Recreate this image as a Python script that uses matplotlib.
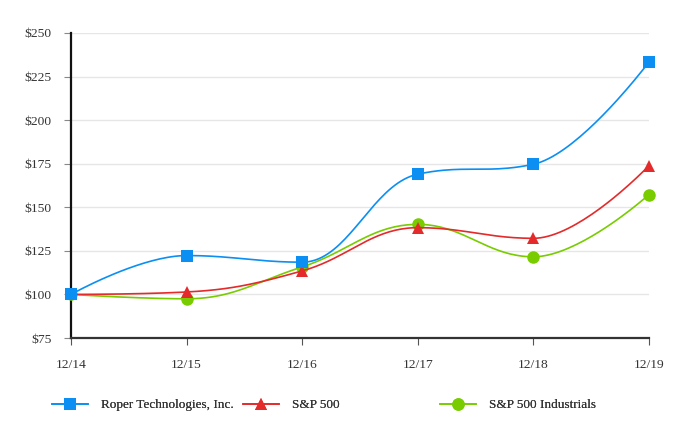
"""
Five-year cumulative total return: Roper vs S&P 500 vs S&P 500 Industrials.
Smooth spline lines with markers, serif labels, legend row below the plot.
"""

import numpy as np
import matplotlib.pyplot as plt
from matplotlib.lines import Line2D

years       = ["12/14", "12/15", "12/16", "12/17", "12/18", "12/19"]
roper       = [100.0, 122.3, 118.5, 169.0, 174.7, 233.4]
sp500       = [100.0, 101.4, 113.5, 138.3, 132.2, 173.9]
industrials = [100.0, 97.5, 115.8, 140.2, 121.6, 157.3]

y_ticks  = [75, 100, 125, 150, 175, 200, 225, 250]
y_labels = [f"${v}" for v in y_ticks]

BLUE  = "#0b8ff2"
RED   = "#e42a2a"
GREEN = "#78cc00"
TEXT  = "#333333"
FONT  = ["Liberation Serif", "DejaVu Serif"]


def spline(xs, ys, smoothing=1.5, n=40):
    """Bezier spline through the points (same idea as a charting 'spline' series)."""
    xs = np.asarray(xs, float)
    ys = np.asarray(ys, float)
    k = len(xs)
    left = [(xs[i], ys[i]) for i in range(k)]
    right = [(xs[i], ys[i]) for i in range(k)]
    d = smoothing + 1
    for i in range(1, k - 1):
        lx = (smoothing * xs[i] + xs[i - 1]) / d
        ly = (smoothing * ys[i] + ys[i - 1]) / d
        rx = (smoothing * xs[i] + xs[i + 1]) / d
        ry = (smoothing * ys[i] + ys[i + 1]) / d
        corr = (ry - ly) * (rx - xs[i]) / (rx - lx) + ys[i] - ry
        ly += corr
        ry += corr
        # keep control points from overshooting the neighbours
        if ly > ys[i - 1] and ly > ys[i]:
            ly = max(ys[i - 1], ys[i]); ry = 2 * ys[i] - ly
        elif ly < ys[i - 1] and ly < ys[i]:
            ly = min(ys[i - 1], ys[i]); ry = 2 * ys[i] - ly
        if ry > ys[i + 1] and ry > ys[i]:
            ry = max(ys[i + 1], ys[i]); ly = 2 * ys[i] - ry
        elif ry < ys[i + 1] and ry < ys[i]:
            ry = min(ys[i + 1], ys[i]); ly = 2 * ys[i] - ry
        left[i] = (lx, ly)
        right[i] = (rx, ry)

    t = np.linspace(0, 1, n)[:, None]
    out = []
    for i in range(1, k):
        p0 = np.array([xs[i - 1], ys[i - 1]])
        p1 = np.array(right[i - 1])
        p2 = np.array(left[i])
        p3 = np.array([xs[i], ys[i]])
        seg = ((1 - t) ** 3) * p0 + 3 * ((1 - t) ** 2) * t * p1 \
            + 3 * (1 - t) * t ** 2 * p2 + t ** 3 * p3
        out.append(seg if i == 1 else seg[1:])
    pts = np.vstack(out)
    return pts[:, 0], pts[:, 1]


fig = plt.figure(figsize=(6.82, 4.40), dpi=100)
ax = fig.add_axes([71 / 682, 1 - 338 / 440, (649 - 71) / 682, (338 - 33) / 440])

x = np.arange(len(years))
series = [
    ("Roper Technologies, Inc.", roper, BLUE, "s", 8.8),
    ("S&P 500", sp500, RED, "^", 9),
    ("S&P 500 Industrials", industrials, GREEN, "o", 9),
]

# first series sits on top, as in the source chart
for rank, (label, vals, color, marker, ms) in enumerate(series):
    z = 10 - 2 * rank
    sx, sy = spline(x, vals)
    ax.plot(sx, sy, color=color, lw=1.2, zorder=z, clip_on=False)
    ax.plot(x, vals, linestyle="none", marker=marker, ms=ms, color=color,
            markeredgewidth=0, zorder=z + 1, clip_on=False)

ax.set_xlim(0, len(years) - 1)
ax.set_ylim(75, 250)
ax.set_xticks(x)
ax.set_xticklabels(years)
ax.set_yticks(y_ticks)
ax.set_yticklabels(y_labels)

ax.grid(axis="y", color="#e6e6e6", lw=1.0, zorder=0)
ax.set_axisbelow(True)
for side in ("top", "right"):
    ax.spines[side].set_visible(False)
ax.spines["left"].set_color("#111111")
ax.spines["left"].set_linewidth(1.6)
ax.spines["bottom"].set_color("#333333")
ax.spines["bottom"].set_linewidth(1.6)

ax.tick_params(axis="y", length=5, width=0.8, color="#888888", pad=9,
               labelsize=9.7, labelcolor=TEXT)
ax.tick_params(axis="x", length=5, width=0.8, color="#555555", pad=10,
               labelsize=9.7, labelcolor=TEXT)
for lab in ax.get_xticklabels() + ax.get_yticklabels():
    lab.set_family(FONT)

# ── legend row: three fixed-width slots ──────────────────────────────────────
legend_x = [52 / 682, 243 / 682, 440 / 682]
for (label, vals, color, marker, ms), lx in zip(series, legend_x):
    h = Line2D([], [], color=color, lw=1.2, marker=marker, ms=ms,
               markeredgewidth=0)
    leg = fig.legend(handles=[h], labels=[label], loc="center left",
                     bbox_to_anchor=(lx, 1 - 405 / 440), frameon=False,
                     borderpad=0, borderaxespad=0, handlelength=2.75,
                     handletextpad=0.95,
                     prop={"family": FONT, "size": 9.5})
    for txt in leg.get_texts():
        txt.set_color(TEXT)
    fig.add_artist(leg)

fig.savefig("out.png", dpi=100, facecolor="white")
